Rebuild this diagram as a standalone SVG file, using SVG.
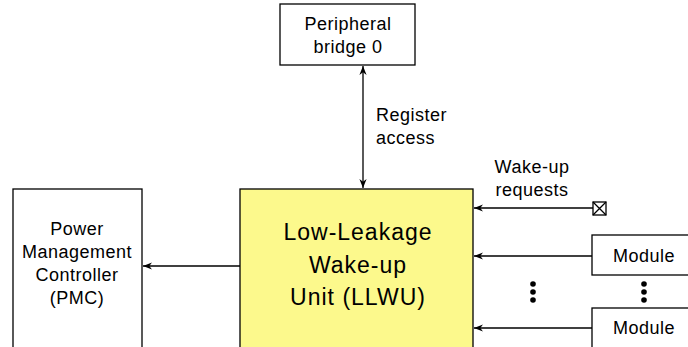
<svg xmlns="http://www.w3.org/2000/svg" width="688" height="347" viewBox="0 0 688 347">
<defs>
<style>
.box{fill:#fff;stroke:#000;stroke-width:1.3}
.t{font-family:"Liberation Sans",Arial,sans-serif;font-size:18px;letter-spacing:0.5px;fill:#000;text-anchor:middle}
.tl{font-family:"Liberation Sans",Arial,sans-serif;font-size:18px;letter-spacing:0.5px;fill:#000}
.big{font-family:"Liberation Sans",Arial,sans-serif;font-size:23px;letter-spacing:1px;fill:#000;text-anchor:middle}
.ln{stroke:#000;stroke-width:1.3;fill:none}
</style>
<marker id="ah" viewBox="0 0 10 10" refX="10" refY="5" markerWidth="9" markerHeight="9" markerUnits="userSpaceOnUse" orient="auto-start-reverse">
<path d="M0,1 L10,5 L0,9 L3,5 Z" fill="#000"/>
</marker>
</defs>
<rect width="688" height="347" fill="#fff"/>
<g id="bridge">
<rect class="box" x="280" y="4" width="135" height="61"/>
<text class="t" x="348" y="30">Peripheral</text>
<text class="t" x="348" y="53">bridge 0</text>
</g>
<g id="llwu">
<rect x="240" y="189" width="233" height="170" fill="#fcf98c" stroke="#000" stroke-width="1.3"/>
<text class="big" x="358" y="240">Low-Leakage</text>
<text class="big" x="358" y="273">Wake-up</text>
<text class="big" x="358" y="305">Unit (LLWU)</text>
</g>
<g id="pmc">
<rect class="box" x="13" y="189" width="129" height="170"/>
<text class="t" x="77" y="235">Power</text>
<text class="t" x="77" y="258">Management</text>
<text class="t" x="77" y="281">Controller</text>
<text class="t" x="77" y="304">(PMC)</text>
</g>
<g id="wakeup-pin">
<rect class="box" x="593" y="202" width="13" height="13"/>
<path class="ln" d="M593,202 L606,215 M606,202 L593,215"/>
</g>
<g id="module1">
<rect class="box" x="592" y="235" width="110" height="40"/>
<text class="t" x="644" y="262">Module</text>
</g>
<g id="module2">
<rect class="box" x="592" y="308" width="110" height="50"/>
<text class="t" x="644" y="334">Module</text>
</g>
<g id="connectors">
<line class="ln" x1="363" y1="66" x2="363" y2="188" marker-start="url(#ah)" marker-end="url(#ah)"/>
<line class="ln" x1="240" y1="266" x2="143" y2="266" marker-end="url(#ah)"/>
<line class="ln" x1="593" y1="208" x2="474" y2="208" marker-end="url(#ah)"/>
<line class="ln" x1="592" y1="256" x2="474" y2="256" marker-end="url(#ah)"/>
<line class="ln" x1="592" y1="328" x2="474" y2="328" marker-end="url(#ah)"/>
</g>
<g id="labels">
<text class="tl" x="376" y="121">Register</text>
<text class="tl" x="376" y="144">access</text>
<text class="t" x="532" y="173">Wake-up</text>
<text class="t" x="532" y="196">requests</text>
</g>
<g id="dots" fill="#000">
<circle cx="533" cy="284" r="2.8"/>
<circle cx="533" cy="292" r="2.8"/>
<circle cx="533" cy="300" r="2.8"/>
<circle cx="644" cy="284" r="2.8"/>
<circle cx="644" cy="292" r="2.8"/>
<circle cx="644" cy="300" r="2.8"/>
</g>
</svg>
